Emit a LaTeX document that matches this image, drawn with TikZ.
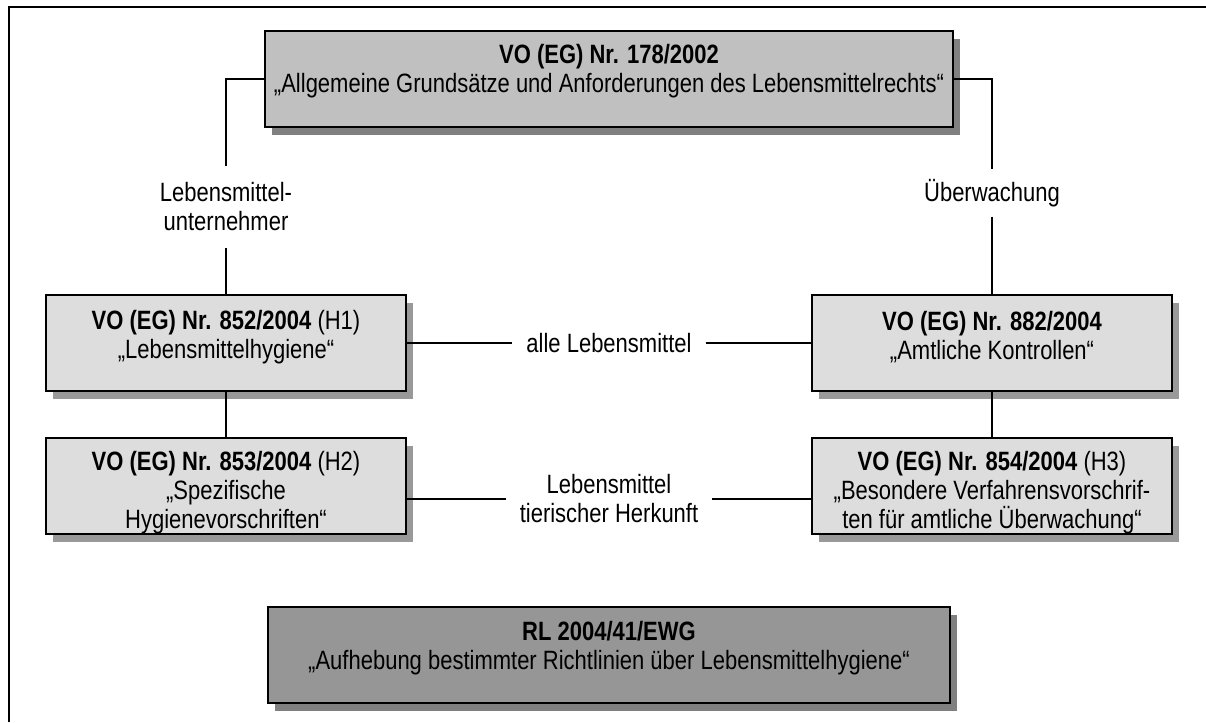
\documentclass[tikz,border=0pt]{standalone}
\usepackage{fontspec}
\setmainfont{Liberation Sans}[FakeStretch=0.83]
\usetikzlibrary{shadows}

\definecolor{fillTop}{HTML}{C0C0C0}
\definecolor{fillMid}{HTML}{DDDDDD}
\definecolor{fillLow}{HTML}{969696}
\definecolor{shadeDark}{HTML}{808080}
\definecolor{shadeMid}{HTML}{999999}

\tikzset{
  regbox/.style={rectangle, draw=black, line width=2pt, inner sep=0pt,
    general shadow={fill=#1, shadow xshift=7pt, shadow yshift=-8pt}},
  regtext/.style={align=center, inner sep=0pt,
    font=\fontsize{26.5}{29}\selectfont},
  linklabel/.style={align=center, inner xsep=14pt,
    font=\fontsize{26.5}{29}\selectfont},
  link/.style={draw=black, line width=1.5pt},
}

\begin{document}
\begin{tikzpicture}[x=1pt, y=-1pt]
\useasboundingbox (0,0) rectangle (1206,722);

% outer frame (top and left edges)
\draw[line width=2.5pt] (9,722) -- (9,7) -- (1206,7);

% regulation boxes
\node[regbox=shadeDark, fill=fillTop, minimum width=688pt, minimum height=96pt] (b178) at (609,79) {};
\node[regbox=shadeMid, fill=fillMid, minimum width=360pt, minimum height=96pt] (b852) at (226,343) {};
\node[regbox=shadeMid, fill=fillMid, minimum width=360pt, minimum height=96pt] (b882) at (992,343) {};
\node[regbox=shadeMid, fill=fillMid, minimum width=360pt, minimum height=96pt] (b853) at (226,486) {};
\node[regbox=shadeMid, fill=fillMid, minimum width=360pt, minimum height=96pt] (b854) at (992,486) {};
\node[regbox=shadeDark, fill=fillLow, minimum width=682pt, minimum height=96pt] (brl) at (609,655) {};

% box texts
\node[regtext] (t178) at (609,71) {\textbf{VO (EG) Nr. 178/2002}\\„Allgemeine Grundsätze und Anforderungen des Lebensmittelrechts“};
\node[regtext] (t852) at (226,337) {\textbf{VO (EG) Nr. 852/2004} (H1)\\„Lebensmittelhygiene“};
\node[regtext] (t882) at (992,337) {\textbf{VO (EG) Nr. 882/2004}\\„Amtliche Kontrollen“};
\node[regtext] (t853) at (226,493) {\textbf{VO (EG) Nr. 853/2004} (H2)\\„Spezifische\\Hygienevorschriften“};
\node[regtext] (t854) at (992,493) {\textbf{VO (EG) Nr. 854/2004} (H3)\\„Besondere Verfahrensvorschrif-\\ten für amtliche Überwachung“};
\node[regtext] (trl) at (609,648) {\textbf{RL 2004/41/EWG}\\„Aufhebung bestimmter Richtlinien über Lebensmittelhygiene“};

% connector labels
\node[linklabel, inner ysep=17pt] (lunt) at (226,207) {Lebensmittel-\\unternehmer};
\node[linklabel, inner ysep=10pt, anchor=base] (lueb) at (992,201) {Überwachung};
\node[linklabel] (lall) at (609,343) {alle Lebensmittel};
\node[linklabel] (ltier) at (609,499) {Lebensmittel\\tierischer Herkunft};

% connectors
\draw[link] (b178.west) -| (lunt.north);
\draw[link] (lunt.south) -- (b852.north);
\draw[link] (b178.east) -| (lueb.north);
\draw[link] (lueb.south) -- (b882.north);
\draw[link] (b852.east) -- (lall.west);
\draw[link] (lall.east) -- (b882.west);
\draw[link] (b852.south) -- (b853.north);
\draw[link] (b882.south) -- (b854.north);
\draw[link] (ltier.west -| b853.east) -- (ltier.west);
\draw[link] (ltier.east) -- (ltier.east -| b854.west);
\end{tikzpicture}
\end{document}
